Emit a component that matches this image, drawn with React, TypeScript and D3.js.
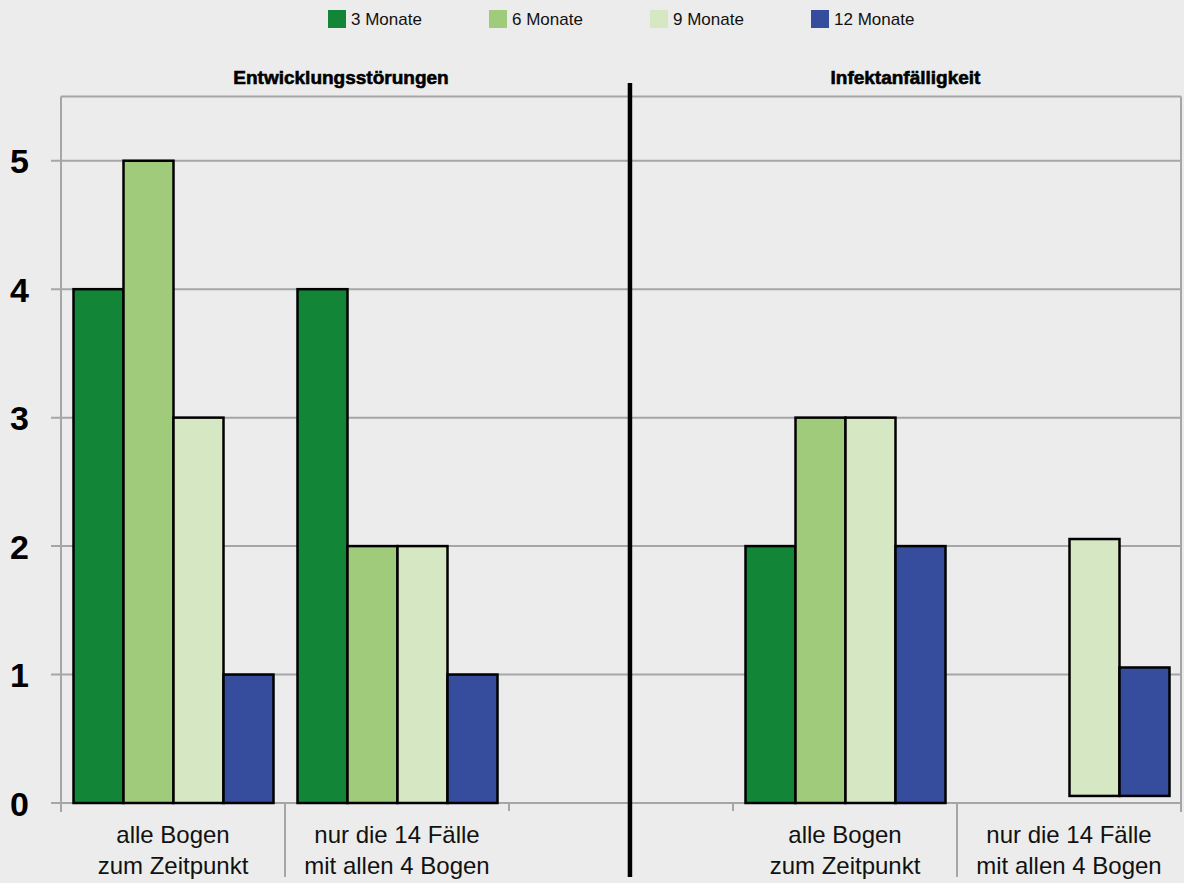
import React from "react";
import * as d3 from "d3";

// Kategorien der x-Achse (leere Kategorie trennt die beiden Bereiche)
const categories = [
  "alle Bogen|zum Zeitpunkt",
  "nur die 14 Fälle|mit allen 4 Bogen",
  "",
  "alle Bogen|zum Zeitpunkt",
  "nur die 14 Fälle|mit allen 4 Bogen",
];
const seriesNames = ["3 Monate", "6 Monate", "9 Monate", "12 Monate"];
const seriesColors = ["#138537", "#a0cb7b", "#d5e7c3", "#364c9c"];

const values3 = [4, 4, 0, 2, 0];
const values6 = [5, 2, 0, 3, 0];
const values9 = [3, 2, 0, 3, 2];
const values12 = [1, 1, 0, 2, 1];
// Sockel der Balken je Kategorie
const baseValues = [0, 0, 0, 0, 0.055];

const panelTitles = ["Entwicklungsstörungen", "Infektanfälligkeit"];
const yTicks = [0, 1, 2, 3, 4, 5];

const W = 1184;
const H = 883;
const FONT = "'Liberation Sans', Arial, Helvetica, sans-serif";

export default function App() {
  const series = [values3, values6, values9, values12];
  const left = 61;
  const right = 1181;
  const top = 96.5;
  const bottom = 803;

  const x = d3.scaleBand<number>().domain(d3.range(categories.length)).range([left, right]);
  const bw = x.bandwidth();
  const inner = d3.scaleBand<number>().domain(d3.range(series.length)).range([12.5, bw - 11.5]);
  const y = d3.scaleLinear().domain([0, 5.5]).range([bottom, top]);

  const sepX = (x(2) as number) + bw * 0.54;
  const leftTitleX = (left + (x(2) as number) + bw / 2) / 2;
  const rightTitleX = (sepX + right) / 2;

  const grid = "#a6a6a6";
  const longTicks = [1, 4];

  return (
    <svg
      width={W}
      height={H}
      style={{ position: "absolute", left: 0, top: 0, background: "#ececec" }}
      fontFamily={FONT}
    >
      <rect x={0} y={0} width={W} height={H} fill="#ececec" />

      {/* Legende */}
      {seriesNames.map((name, i) => {
        const lx = 328 + i * 161;
        return (
          <g key={name}>
            <rect x={lx} y={10} width={18} height={18} fill={seriesColors[i]} />
            <text x={lx + 23} y={25} fontSize={17} fill="#111">
              {name}
            </text>
          </g>
        );
      })}

      {/* Bereichstitel */}
      {[leftTitleX, rightTitleX].map((tx, i) => (
        <text
          key={i}
          x={tx}
          y={84}
          textAnchor="middle"
          fontSize={19}
          fontWeight="bold"
          fill="#000"
          stroke="#000"
          strokeWidth={0.6}
        >
          {panelTitles[i]}
        </text>
      ))}

      {/* Gitterlinien und Rahmen */}
      <line x1={left} x2={right} y1={top} y2={top} stroke={grid} strokeWidth={2} />
      {yTicks.map((t) => (
        <g key={t}>
          <line x1={left - 10} x2={right} y1={y(t)} y2={y(t)} stroke={grid} strokeWidth={2} />
          <text
            x={19.5}
            y={y(t) + 12.5}
            textAnchor="middle"
            fontSize={34}
            fontWeight="bold"
            fill="#000"
          >
            {t}
          </text>
        </g>
      ))}
      <line x1={left} x2={left} y1={top} y2={bottom + 9} stroke={grid} strokeWidth={2} />
      <line x1={right} x2={right} y1={top} y2={bottom + 9} stroke={grid} strokeWidth={2} />
      {d3.range(1, categories.length).map((i) => (
        <line
          key={i}
          x1={x(i) as number}
          x2={x(i) as number}
          y1={bottom}
          y2={longTicks.includes(i) ? 877 : bottom + 8}
          stroke={grid}
          strokeWidth={2}
        />
      ))}

      {/* Balken */}
      {categories.map((_, ci) =>
        series.map((vals, si) => {
          const v = vals[ci];
          if (!v) return null;
          const b = baseValues[ci];
          const x0 = (x(ci) as number) + (inner(si) as number);
          return (
            <rect
              key={`${ci}-${si}`}
              x={x0}
              y={y(b + v)}
              width={inner.bandwidth()}
              height={y(b) - y(b + v)}
              fill={seriesColors[si]}
              stroke="#000"
              strokeWidth={2.5}
            />
          );
        })
      )}

      {/* Kategoriebeschriftungen */}
      {categories.map((c, ci) => {
        if (!c) return null;
        const [l1, l2] = c.split("|");
        const cx = (x(ci) as number) + bw / 2;
        return (
          <text key={ci} x={cx} textAnchor="middle" fontSize={24} fill="#111">
            <tspan x={cx} y={843}>
              {l1}
            </tspan>
            <tspan x={cx} y={874}>
              {l2}
            </tspan>
          </text>
        );
      })}

      {/* Trennlinie zwischen den Bereichen */}
      <line x1={sepX} x2={sepX} y1={83} y2={877} stroke="#000" strokeWidth={4.5} />
    </svg>
  );
}
